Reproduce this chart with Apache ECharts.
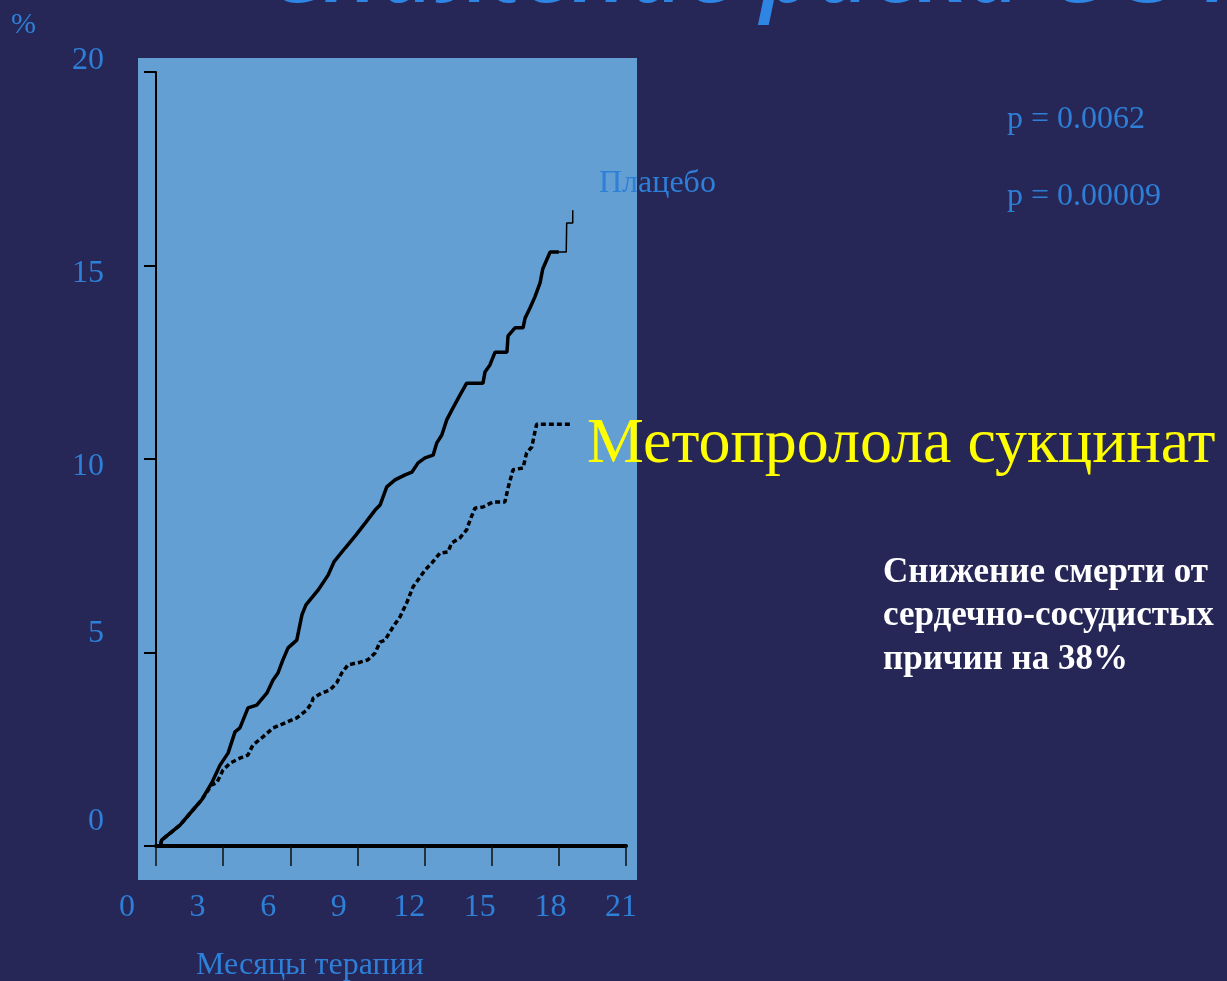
<!DOCTYPE html>
<html>
<head>
<meta charset="utf-8">
<script src="https://cdn.jsdelivr.net/npm/echarts@6/dist/echarts.min.js"></script>
<style>
  html, body { margin: 0; padding: 0; background: #262756; }
  #chart { width: 1227px; height: 981px; }
</style>
</head>
<body>
<div id="chart"></div>
<script>
  // months / cumulative %
  const placeboMonths = [0.2, 0.25, 1.07, 1.65, 2.04, 2.49, 2.86, 3.22, 3.53, 3.75, 4.11, 4.5, 4.95, 5.23, 5.45, 5.67, 5.9, 6.29,
    6.52, 6.7, 7.24, 7.69, 7.95, 8.45, 8.94, 9.38, 9.79, 10.01, 10.31, 10.68, 11.13, 11.43, 11.71, 12.02, 12.38, 12.54, 12.77,
    12.99, 13.27, 13.58, 13.88, 14.61, 14.7, 14.92, 15.15, 15.68, 15.73, 16.04, 16.4, 16.49, 16.71, 16.93, 17.16, 17.28, 17.61, 18.0]
  const placeboPct = [0, 0.15, 0.54, 0.93, 1.19, 1.63, 2.09, 2.4, 2.95, 3.05, 3.57, 3.64, 3.95, 4.29, 4.47, 4.81, 5.12, 5.32,
    5.97, 6.23, 6.61, 7.0, 7.34, 7.7, 8.04, 8.37, 8.68, 8.81, 9.28, 9.46, 9.59, 9.66, 9.9, 10.03, 10.1, 10.41, 10.62,
    11.01, 11.32, 11.65, 11.96, 11.96, 12.25, 12.43, 12.76, 12.76, 13.18, 13.39, 13.39, 13.64, 13.9, 14.19, 14.55, 14.91, 15.35, 15.35]
  // thin tail at the end of the placebo curve
  const placeboTailMonths = [18.0, 18.33, 18.35, 18.62, 18.62]
  const placeboTailPct = [15.35, 15.35, 16.1, 16.1, 16.43]

  const metoMonths = [0.2, 0.25, 1.07, 1.65, 2.04, 2.49, 2.71, 2.99, 3.31, 3.75, 4.11, 4.33, 4.78, 5.23, 5.84, 6.29, 6.73,
    6.96, 7.02, 7.4, 7.77, 8.07, 8.3, 8.58, 9.12, 9.47, 9.79, 10.01, 10.23, 10.59, 10.9, 11.2, 11.48, 11.8, 12.02, 12.32,
    12.69, 13.05, 13.21, 13.58, 13.88, 14.03, 14.25, 14.61, 15.06, 15.59, 15.73, 15.95, 16.4, 16.56, 16.79, 16.93, 17.01, 18.5]
  const metoPct = [0, 0.15, 0.54, 0.93, 1.19, 1.58, 1.63, 1.96, 2.14, 2.27, 2.35, 2.61, 2.82, 3.05, 3.2, 3.31, 3.51,
    3.7, 3.82, 3.95, 4.03, 4.21, 4.47, 4.68, 4.75, 4.81, 4.99, 5.27, 5.32, 5.66, 5.92, 6.28, 6.69, 6.95, 7.13, 7.31,
    7.57, 7.6, 7.83, 7.96, 8.17, 8.42, 8.73, 8.76, 8.89, 8.89, 9.25, 9.72, 9.77, 10.16, 10.31, 10.7, 10.9, 10.9]

  const xTickLabels = ['0', '3', '6', '9', '12', '15', '18', '21']
  const yTickLabels = ['0', '5', '10', '15', '20']

  const zip = (xs, ys) => xs.map((x, i) => [x, ys[i]])

  const blue = '#2e7fd8'
  const serif = 'Liberation Serif'

  const chart = echarts.init(document.getElementById('chart'))

  const option = {
    backgroundColor: '#262756',
    animation: false,
    graphic: [
      { type: 'rect', z: -10, shape: { x: 138, y: 58, width: 499, height: 822 }, style: { fill: '#639fd2' } },
      { type: 'text', x: 266, y: 22, style: { text: 'Снижение риска С 34%', fill: '#2f85e3', fontSize: 95,
          fontFamily: 'Open Sans', fontStyle: 'italic', fontWeight: 600, verticalAlign: 'bottom' } },
      { type: 'text', x: 11, y: 25, style: { text: '%', fill: blue, fontSize: 30, fontFamily: serif, verticalAlign: 'middle' } },
      { type: 'text', x: 599, y: 184, style: { text: 'Плацебо', fill: blue, fontSize: 32, fontFamily: serif, verticalAlign: 'middle' } },
      { type: 'text', x: 1007, y: 120, style: { text: 'p = 0.0062', fill: blue, fontSize: 32, fontFamily: serif, verticalAlign: 'middle' } },
      { type: 'text', x: 1007, y: 197, style: { text: 'p = 0.00009', fill: blue, fontSize: 32, fontFamily: serif, verticalAlign: 'middle' } },
      { type: 'text', x: 587, y: 445, style: { text: 'Метопролола сукцинат', fill: '#ffff00', fontSize: 64, fontFamily: serif, verticalAlign: 'middle' } },
      { type: 'text', x: 883, y: 616, style: { text: 'Снижение смерти от\nсердечно-сосудистых\nпричин на 38%', fill: '#ffffff',
          fontSize: 35, fontWeight: 'bold', lineHeight: 43.5, fontFamily: serif, verticalAlign: 'middle' } },
      { type: 'text', x: 310, y: 966, style: { text: 'Месяцы терапии', fill: blue, fontSize: 32, fontFamily: serif,
          align: 'center', verticalAlign: 'middle' } }
    ],
    grid: [
      { left: 156, top: 72, width: 470, height: 774 },
      { left: 127, top: 72, width: 494, height: 774 },
      { left: 106, top: 61, width: 400, height: 761 }
    ],
    xAxis: [
      {
        gridIndex: 0, type: 'value', min: 0, max: 21, interval: 3,
        axisLine: { lineStyle: { color: '#000', width: 4 } },
        axisTick: { length: 20, lineStyle: { color: '#111', width: 1.5 } },
        axisLabel: { show: false }, splitLine: { show: false }
      },
      {
        gridIndex: 1, type: 'value', min: 0, max: 21, interval: 3,
        axisLine: { show: false }, axisTick: { show: false }, splitLine: { show: false },
        axisLabel: { margin: 46, color: blue, fontSize: 32, fontFamily: serif,
          formatter: (v) => xTickLabels[Math.round(v / 3)] }
      },
      { gridIndex: 2, type: 'value', show: false }
    ],
    yAxis: [
      {
        gridIndex: 0, type: 'value', min: 0, max: 20, interval: 5,
        axisLine: { show: true, lineStyle: { color: '#000', width: 2 } },
        axisTick: { show: true, length: 12, lineStyle: { color: '#000', width: 2 } },
        axisLabel: { show: false }, splitLine: { show: false }
      },
      { gridIndex: 1, type: 'value', show: false },
      {
        gridIndex: 2, type: 'value', min: 0, max: 20,
        axisLine: { show: false }, axisTick: { show: false }, splitLine: { show: false },
        axisLabel: { margin: 2, color: blue, fontSize: 32, fontFamily: serif,
          customValues: [0, 4.94, 9.35, 14.4, 20],
          formatter: (v) => yTickLabels[Math.round(v / 5)] }
      }
    ],
    series: [
      {
        name: 'Плацебо', type: 'line', xAxisIndex: 0, yAxisIndex: 0,
        data: zip(placeboMonths, placeboPct), showSymbol: false,
        lineStyle: { color: '#000', width: 3.5 }
      },
      {
        name: 'Плацебо', type: 'line', xAxisIndex: 0, yAxisIndex: 0,
        data: zip(placeboTailMonths, placeboTailPct), showSymbol: false,
        lineStyle: { color: '#000', width: 1.5 }
      },
      {
        name: 'Метопролола сукцинат', type: 'line', xAxisIndex: 0, yAxisIndex: 0,
        data: zip(metoMonths, metoPct), showSymbol: false,
        lineStyle: { color: '#000', width: 3.5, type: [5, 3] }
      }
    ]
  }

  chart.setOption(option)
</script>
</body>
</html>
